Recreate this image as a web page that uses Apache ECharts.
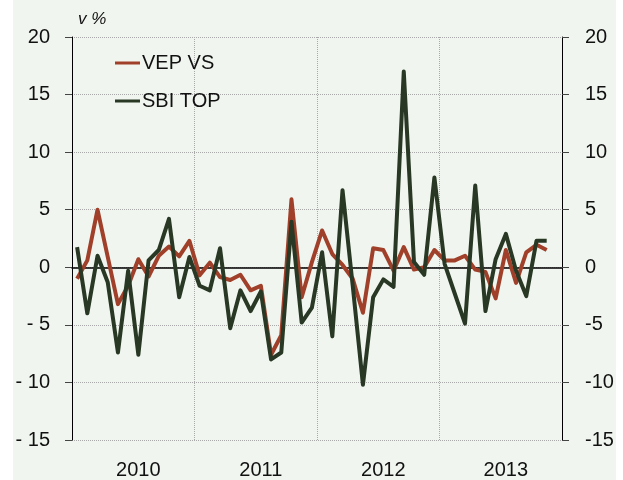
<!DOCTYPE html>
<html>
<head>
<meta charset="utf-8">
<script src="https://cdn.jsdelivr.net/npm/echarts@6.0.0/dist/echarts.min.js"></script>
<style>
  html, body { margin: 0; padding: 0; background: #fff; }
  #chart { width: 623px; height: 480px; }
</style>
</head>
<body>
<div id="chart"></div>
<script>
// 数据：2010-01 到 2013-11，月度变化 (v %)
var years = ['2010', '2011', '2012', '2013'];
var months = ['01', '02', '03', '04', '05', '06', '07', '08', '09', '10', '11', '12'];
var categories = [];
years.forEach(function (y) {
    months.forEach(function (m) { categories.push(y + '-' + m); });
});

var vepVs = [-1.0, 0.6, 5.0, 0.9, -3.2, -1.6, 0.7, -0.8, 1.0, 1.8, 0.95, 2.3,
    -0.7, 0.4, -0.85, -1.1, -0.65, -2.0, -1.6, -7.6, -5.9, 5.9, -2.6, 0.45,
    3.2, 1.15, 0.2, -1.0, -3.95, 1.65, 1.5, -0.3, 1.75, -0.2, 0.0, 1.5,
    0.6, 0.6, 1.0, -0.2, -0.4, -2.7, 1.5, -1.35, 1.3, 1.95, 1.5];

var sbiTop = [1.75, -4.0, 1.0, -1.3, -7.4, -0.3, -7.6, 0.6, 1.5, 4.2, -2.6, 0.9,
    -1.6, -2.0, 1.65, -5.3, -2.0, -3.8, -2.1, -8.0, -7.4, 3.95, -4.8, -3.5,
    1.3, -6.0, 6.7, -1.6, -10.2, -2.6, -1.05, -1.7, 17.0, 0.45, -0.65, 7.8,
    0.3, -2.3, -4.9, 7.1, -3.8, 0.7, 2.9, -0.3, -2.5, 2.3, 2.3];

var yMin = -15, yMax = 20, yStep = 5;

var FONT = "'Liberation Sans', Arial, sans-serif";
var gridDots = { type: 'dotted', color: '#a9a9a9', width: 1 };

var myChart = echarts.init(document.getElementById('chart'));

var option = {
    animation: false,
    backgroundColor: '#ffffff',
    textStyle: { fontFamily: FONT },
    graphic: [
        {
            type: 'rect', z: -100, silent: true,
            shape: { x: 13, y: 0, width: 603, height: 480 },
            style: { fill: '#f0f6ef' }
        },
        {
            type: 'text', left: 78, top: 11,
            style: { text: 'v %', font: 'italic 17px ' + FONT, fill: '#111' }
        }
    ],
    grid: { left: 72, right: 61, top: 37, bottom: 38 },
    legend: {
        data: ['VEP VS', 'SBI TOP'],
        orient: 'vertical',
        left: 110,
        top: 48,
        icon: 'rect',
        itemWidth: 25,
        itemHeight: 3,
        itemGap: 18,
        selectedMode: false,
        textStyle: { fontSize: 20, color: '#111', fontFamily: FONT, padding: [0, 0, 0, -3] }
    },
    xAxis: [
        {
            type: 'category',
            data: categories,
            boundaryGap: true,
            axisLine: { show: false, onZero: false },
            axisTick: { show: false },
            axisLabel: {
                interval: function (i) { return i % 12 === 6; },
                formatter: function (v) { return v.slice(0, 4); },
                fontSize: 20,
                color: '#111',
                margin: 20
            },
            splitLine: {
                show: true,
                interval: function (i) { return i % 12 === 0; },
                lineStyle: gridDots
            }
        },
        {
            // 零线
            type: 'category',
            data: categories,
            boundaryGap: true,
            axisLine: { show: true, onZero: true, onZeroAxisIndex: 0, lineStyle: { color: '#000', width: 1.5 } },
            axisTick: { show: false },
            axisLabel: { show: false },
            splitLine: { show: false }
        }
    ],
    yAxis: [
        {
            type: 'value',
            position: 'left',
            min: yMin, max: yMax, interval: yStep,
            axisLine: { show: true, lineStyle: { color: '#000', width: 1 } },
            axisTick: { show: true, length: 7, lineStyle: { color: '#444' } },
            axisLabel: {
                fontSize: 20, color: '#111', margin: 22,
                formatter: function (v) { return v < 0 ? '- ' + (-v) : String(v); }
            },
            splitLine: { show: true, lineStyle: gridDots }
        },
        {
            type: 'value',
            position: 'right',
            min: yMin, max: yMax, interval: yStep,
            axisLine: { show: true, lineStyle: { color: '#000', width: 1 } },
            axisTick: { show: true, length: 7, lineStyle: { color: '#444' } },
            axisLabel: {
                fontSize: 20, color: '#111', margin: 23,
                formatter: function (v) { return String(v); }
            },
            splitLine: { show: false }
        }
    ],
    series: [
        {
            name: 'VEP VS',
            type: 'line',
            data: vepVs,
            symbol: 'none',
            itemStyle: { color: '#a0402a' },
            lineStyle: { color: '#a0402a', width: 4, join: 'round' },
            z: 2
        },
        {
            name: 'SBI TOP',
            type: 'line',
            data: sbiTop,
            symbol: 'none',
            itemStyle: { color: '#283824' },
            lineStyle: { color: '#283824', width: 4, join: 'round' },
            z: 3
        }
    ]
};

myChart.setOption(option);
</script>
</body>
</html>
